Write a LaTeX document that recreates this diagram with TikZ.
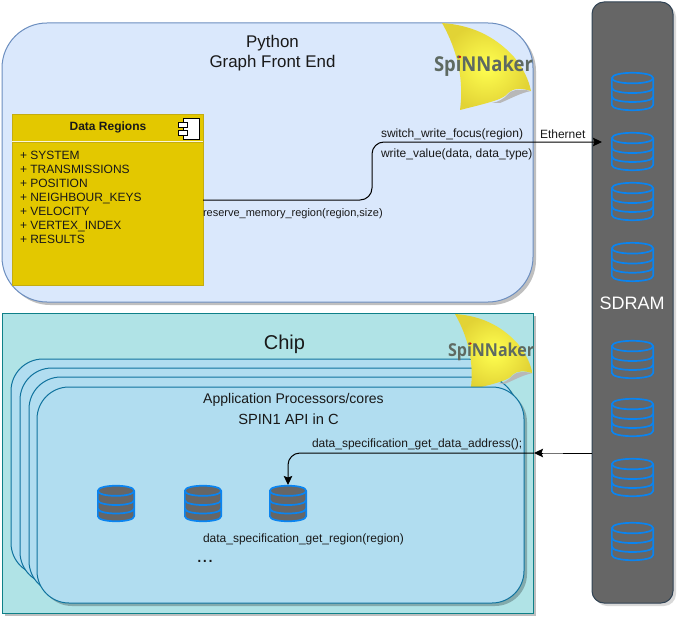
\documentclass[tikz,border=0pt]{standalone}
\usepackage{fontspec}
\setmainfont{Liberation Sans}
\newfontfamily\logofont{Open Sans}
\usetikzlibrary{arrows.meta}
\definecolor{pyfill}{HTML}{DAE8FC}
\definecolor{pyline}{HTML}{6C8EBF}
\definecolor{chipfill}{HTML}{B0E3E6}
\definecolor{chipline}{HTML}{0E8088}
\definecolor{cardfill}{HTML}{B1DDF0}
\definecolor{cardline}{HTML}{10739E}
\definecolor{regfill}{HTML}{E3C800}
\definecolor{regline}{HTML}{C4AC10}
\definecolor{sdfill}{HTML}{666666}
\definecolor{sdline}{HTML}{314354}
\definecolor{cylline}{HTML}{0A84F0}
\definecolor{logotext}{HTML}{5E6A62}
\definecolor{sailhi}{HTML}{FFFF50}
\definecolor{sailedge}{HTML}{E2D335}
\tikzset{
  x=1pt,y=-1pt,
  softshadow/.style={fill=black,fill opacity=.25,draw=none},
  boxbase/.style={anchor=north west,inner sep=0pt,outer sep=0pt,line width=1pt},
  pybox/.style={boxbase,draw=pyline,fill=pyfill,rounded corners=45pt,minimum width=531pt,minimum height=279pt},
  chipbox/.style={boxbase,draw=chipline,fill=chipfill,minimum width=531pt,minimum height=300pt},
  cardbox/.style={boxbase,draw=cardline,fill=cardfill,rounded corners=32pt,minimum width=487pt,minimum height=216pt},
  sdbox/.style={boxbase,draw=sdline,fill=sdfill,rounded corners=12pt,minimum width=81pt,minimum height=601pt},
  regbox/.style={anchor=north west,inner sep=0pt,outer sep=0pt,draw=regline,fill=regfill,line width=.8pt,minimum width=191pt},
  cylslot/.style={anchor=north west,inner sep=0pt,outer sep=0pt},
  cylpath/.style={draw=cylline,line width=1.7pt},
  label/.style={inner sep=0pt,outer sep=0pt,text=black!90,font=\fontsize{#1}{#1}\selectfont},
  label/.default=12pt,
  wire/.style={draw=black,line width=1pt},
  tip/.style={-{Stealth[inset=1.5pt,length=9pt,width=8.5pt]}},
  icon/.style={draw=black,fill=white,line width=.8pt},
}
% name, x, y, width, height, fill
\newcommand{\dbcyl}[6]{%
  \node[cylslot,minimum width=#4pt,minimum height=#5pt] (#1) at (#2,#3) {};
  \begin{scope}[shift={(#2+.85,#3+.85)}]
    \pgfmathsetmacro{\wd}{#4-1.7}
    \pgfmathsetmacro{\ht}{#5-1.7}
    \pgfmathsetmacro{\ry}{0.14*\ht}
    \pgfmathsetmacro{\yb}{\ht-\ry}
    \pgfmathsetmacro{\yc}{\ry+0.26*\ht}
    \pgfmathsetmacro{\yd}{\ry+0.50*\ht}
    \path[cylpath,fill=#6] (0,\ry) -- (0,\yb) .. controls (0,\ht+1.8) and (\wd,\ht+1.8) .. (\wd,\yb) -- (\wd,\ry)
      .. controls (\wd,-1.8) and (0,-1.8) .. (0,\ry) -- cycle;
    \draw[cylpath] (0,\ry) .. controls (0,2*\ry+1.8) and (\wd,2*\ry+1.8) .. (\wd,\ry);
    \draw[cylpath] (0,\yc) .. controls (0,\yc+\ry+1.8) and (\wd,\yc+\ry+1.8) .. (\wd,\yc);
    \draw[cylpath] (0,\yd) .. controls (0,\yd+\ry+1.8) and (\wd,\yd+\ry+1.8) .. (\wd,\yd);
  \end{scope}}
% name, x, y, scale
\newcommand{\spinlogo}[4]{%
  \begin{scope}[shift={(#2,#3)},scale=#4]
    \fill[black!28] (89,68) .. controls (80,66) and (70,66) .. (66,71) .. controls (62,76) and (56,79) .. (50,80)
      -- (58,80) .. controls (68,76) and (78,70) .. (89,68) -- cycle;
    \shade[inner color=sailhi,outer color=sailedge,draw=none]
      (0,0) .. controls (28,2) and (52,12) .. (72,34)
      .. controls (82,46) and (87,58) .. (89,68)
      .. controls (80,65) and (71,65) .. (66,70)
      .. controls (62,76) and (50,79) .. (18,87)
      .. controls (22,58) and (16,28) .. (0,0) -- cycle;
    \pgfmathsetmacro{\logox}{.9*#4}
    \node[anchor=base west,inner sep=0pt,outer sep=0pt,text=logotext,xscale=\logox,yscale=#4,font=\logofont\fontsize{20.5pt}{20.5pt}\selectfont\bfseries] (#1) at (-8,48.7) {SpiNNaker};
    \fill[red!85!black] (18,33.9) circle (1.2);
  \end{scope}}
\begin{document}
\begin{tikzpicture}
\useasboundingbox (0,0) rectangle (678,626);

% Python front end
\fill[softshadow,rounded corners=45pt] (5,26) rectangle (536,305);
\node[pybox] (python) at (2,23) {};
\spinlogo{logoa}{442}{23}{1}
\node[label=16.9pt] (pytitlea) at (272.5,43.5) {Python};
\node[label=16.9pt] (pytitleb) at (272.5,63) {Graph Front End};

% Data regions component
\node[regbox,minimum height=27pt] (reghead) at (12,114) {};
\node[regbox,minimum height=143pt] (regbody) at (12,142) {};
\draw[white!85!regfill,line width=1pt] (reghead.south west) -- (reghead.south east);
\node[label=12pt,font=\fontsize{12pt}{12pt}\selectfont\bfseries] (regtitle) at (108,127.5) {Data Regions};
\draw[icon] (183,118) rectangle (199,139);
\draw[icon] (178,122) rectangle (187,127);
\draw[icon] (178,130) rectangle (187,135);
\node[label=12pt,anchor=north west,align=left,font=\fontsize{12pt}{14pt}\selectfont] (reglist) at (20,151)
  {+ SYSTEM\\+ TRANSMISSIONS\\+ POSITION\\+ NEIGHBOUR\_KEYS\\+ VELOCITY\\+ VERTEX\_INDEX\\+ RESULTS};

% Chip
\fill[softshadow] (5,316) rectangle (536,616);
\node[chipbox] (chip) at (2,313) {};
\fill[softshadow,rounded corners=32pt] (14,362) rectangle (501,578);
\node[cardbox] (carda) at (11,359) {};
\fill[softshadow,rounded corners=32pt] (23,371) rectangle (510,587);
\node[cardbox] (cardb) at (20,368) {};
\fill[softshadow,rounded corners=32pt] (32,380) rectangle (519,596);
\node[cardbox] (cardc) at (29,377) {};
\spinlogo{logob}{455}{314}{.87}
\fill[softshadow,rounded corners=32pt] (40,390) rectangle (527,606);
\node[cardbox] (cardd) at (37,387) {};
\node[label=20pt] (chiptitle) at (284.5,344) {Chip};
\node[label=14pt] (cardtitlea) at (293.5,400) {Application Processors/cores};
\node[label=14.7pt] (cardtitleb) at (288.5,419) {SPIN1 API in C};

\dbcyl{loca}{97}{485}{38}{37}{sdfill}
\dbcyl{locb}{184}{485}{38}{37}{sdfill}
\dbcyl{locc}{269}{485}{38}{37}{sdfill}
\node[label=12pt,anchor=west] (getregion) at (203,539) {data\_specification\_get\_region(region)};
\node[label=20pt] (dots) at (205,561) {...};

% SDRAM
\fill[softshadow,rounded corners=12pt,fill opacity=.15] (595,5) rectangle (676,606);
\node[sdbox] (sdram) at (592,2) {};
\dbcyl{sa}{611}{72}{43}{39}{none}
\dbcyl{sb}{611}{132}{43}{39}{none}
\dbcyl{sc}{611}{182}{43}{39}{none}
\dbcyl{sd}{611}{242}{43}{40}{none}
\dbcyl{se}{611}{340}{43}{39}{none}
\dbcyl{sf}{611}{398}{43}{39}{none}
\dbcyl{sg}{611}{458}{43}{39}{none}
\dbcyl{sh}{611}{522}{43}{39}{none}
\node[label=18pt,text=white] (sdlabel) at (632,303) {SDRAM};

% Connectors
\coordinate (wirestart) at (203,200);
\coordinate (wirebenda) at (372,200);
\coordinate (wirebendb) at (372,142);
\coordinate (wireend) at (602,142);
\draw[wire,tip,rounded corners=12pt] (wirestart) -- (wirebenda) -- (wirebendb) -- (wireend);
\coordinate (readstart) at (592,453);
\coordinate (readend) at (534,453);
\draw[wire,tip] (readstart) -- (readend);
\draw[draw=black!55,line width=1pt] (563,453) -- (543,453);
\coordinate (addrstart) at (534,453);
\coordinate (addrbend) at (288,453);
\draw[wire,tip,rounded corners=12pt] (addrstart) -- (addrbend) -- (locc.north);

% Connector labels
\node[label=12pt,anchor=west] (lswitch) at (381,134) {switch\_write\_focus(region)};
\node[label=12pt,anchor=west] (lether) at (540,134) {Ethernet};
\node[label=12pt,anchor=west] (lwrite) at (381,154.5) {write\_value(data, data\_type)};
\node[label=11pt,anchor=west] (lreserve) at (203,213.5) {reserve\_memory\_region(region,size)};
\node[label=12pt,anchor=west] (laddr) at (312,444) {data\_specification\_get\_data\_address();};
\end{tikzpicture}
\end{document}
